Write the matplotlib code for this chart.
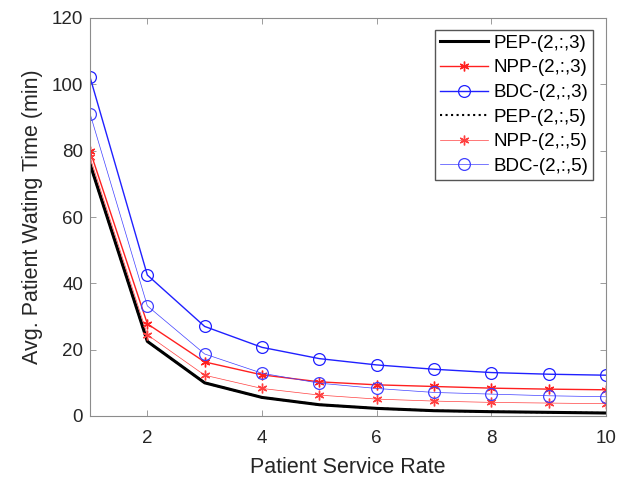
import matplotlib
matplotlib.use("Agg")
import matplotlib.pyplot as plt

plt.rcParams['font.family'] = ['Liberation Sans', 'DejaVu Sans']

rate = [1, 2, 3, 4, 5, 6, 7, 8, 9, 10]
pep3 = [76.0, 22.5, 10.0, 5.6, 3.4, 2.3, 1.6, 1.3, 1.1, 0.9]
npp3 = [80.0, 27.8, 16.3, 12.4, 10.3, 9.4, 8.9, 8.4, 8.1, 7.9]
bdc3 = [102.2, 42.5, 27.0, 20.7, 17.3, 15.4, 14.1, 13.1, 12.6, 12.3]
pep5 = [76.0, 22.5, 10.0, 5.6, 3.4, 2.3, 1.6, 1.3, 1.1, 0.9]
npp5 = [78.0, 24.5, 12.3, 8.3, 6.3, 5.1, 4.5, 4.1, 3.9, 3.7]
bdc5 = [91.2, 33.2, 18.7, 12.9, 9.9, 8.3, 7.1, 6.6, 6.1, 5.8]

labels = ['PEP-(2,:,3)', 'NPP-(2,:,3)', 'BDC-(2,:,3)',
          'PEP-(2,:,5)', 'NPP-(2,:,5)', 'BDC-(2,:,5)']

fig = plt.figure(figsize=(6.18, 4.78), dpi=100)
ax = fig.add_axes([90/618, 1-416/478, (606-90)/618, (416-18)/478])

star = (6, 2, 0)
ax.plot(rate, pep3, color='black', lw=2.2, label=labels[0])
ax.plot(rate, npp3, color='#ff2020', lw=1.0, marker=star, ms=7, mew=1.0, label=labels[1])
ax.plot(rate, bdc3, color='#2020ff', lw=1.0, marker='o', ms=8.5, mfc='none', mew=0.9, label=labels[2])
ax.plot(rate, pep5, color='black', lw=1.5, ls=':', label=labels[3])
ax.plot(rate, npp5, color='#ff4040', lw=0.5, marker=star, ms=7, mew=1.0, label=labels[4])
ax.plot(rate, bdc5, color='#4040ff', lw=0.5, marker='o', ms=8.5, mfc='none', mew=0.9, label=labels[5])

ax.set_xlim(1, 10)
ax.set_ylim(0, 120)
ax.set_xticks([2, 4, 6, 8, 10])
ax.set_yticks([0, 20, 40, 60, 80, 100, 120])
ax.tick_params(direction='in', top=True, right=True, labelsize=13.5,
               labelcolor='#262626', length=4, width=0.6, color='#8c8c8c')
ax.tick_params(axis='x', pad=10)
ax.tick_params(axis='y', pad=5)
for s in ax.spines.values():
    s.set_color('#8c8c8c')
    s.set_linewidth(0.8)

ax.set_xlabel('Patient Service Rate', fontsize=15.5, color='#262626', labelpad=7)
ax.set_ylabel('Avg. Patient Wating Time (min)', fontsize=15.5, color='#262626', labelpad=6)

leg = ax.legend(loc='upper right', bbox_to_anchor=(593/618, 1-30/478),
                bbox_transform=fig.transFigure, borderaxespad=0,
                fontsize=13.5, fancybox=False, framealpha=1,
                edgecolor='#555555', handlelength=2.55, borderpad=0.25,
                labelspacing=0.4, handletextpad=0.3)
leg.get_frame().set_linewidth(1.0)

fig.savefig('out.png', dpi=100)
